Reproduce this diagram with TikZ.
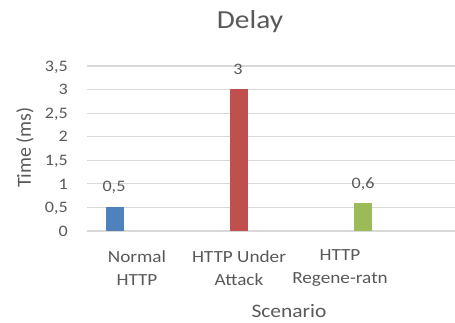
\documentclass[tikz,border=0pt]{standalone}
\usepackage{fontspec}
\setmainfont{Carlito}
\definecolor{txt}{HTML}{595959}
\definecolor{grid}{HTML}{D9D9D9}
\definecolor{barblue}{HTML}{4F81BD}
\definecolor{barred}{HTML}{C0504D}
\definecolor{bargreen}{HTML}{9BBB59}
\tikzset{
  lbl/.style={text=txt, inner sep=0pt, xscale=1.13, transform shape},
  tick/.style={lbl, anchor=east, text depth=0pt, font=\fontsize{16}{18}\selectfont},
  vallbl/.style={lbl, text depth=0pt, font=\fontsize{16}{18}\selectfont},
  cat/.style={lbl, align=center, font=\fontsize{17}{23.3}\selectfont},
  gridline/.style={draw=grid, line width=1.1pt},
  bar/.style={inner sep=0pt, minimum width=18pt, anchor=south, draw=none}
}
\begin{document}
\begin{tikzpicture}[x=1pt,y=-1pt]
\useasboundingbox (0,0) rectangle (455,323);
\fill[white] (0,0) rectangle (455,323);
% gridlines
\foreach \v/\n in {0/0,0.5/0,5,1/1,1.5/1,5,2/2,2.5/2,5,3/3,3.5/3,5}{}
\foreach \i/\t in {0/0,1/{0,5},2/1,3/{1,5},4/2,5/{2,5},6/3,7/{3,5}}{
  \coordinate (gl\i) at (86.7,231-\i*23.57);
  \coordinate (gr\i) at (455,231-\i*23.57);
  \draw[gridline] (gl\i) -- (gr\i);
  \node[tick] (t\i) at (68,231-\i*23.57) {\t};
}
% bars
\fill[barblue] (106,231) rectangle (124,207.4);
\fill[barred] (230.3,231) rectangle (247.7,88.6);
\fill[bargreen] (354.3,231) rectangle (372,202.7);
\coordinate (b1) at (115,207.4);
\coordinate (b2) at (239,88.6);
\coordinate (b3) at (363,202.7);
% value labels
\node[vallbl] (v1) at (114,186.7) {0,5};
\node[vallbl] (v2) at (238,69) {3};
\node[vallbl] (v3) at (363,182.7) {0,6};
% category labels
\node[cat] (c1) at (137,268.3) {Normal\\HTTP};
\node[cat] (c2) at (239,268.3) {HTTP Under\\Attack};
\node[cat] (c3) at (340,268.3) {HTTP\\Regene-ratn};
% titles
\node[lbl, font=\fontsize{26}{30}\selectfont] (title) at (250,22) {Delay};
\node[lbl, font=\fontsize{19}{22}\selectfont] (xt) at (289,311) {Scenario};
\node[text=txt, inner sep=0pt, rotate=90, font=\fontsize{20}{22}\selectfont] (yt) at (25,147.5) {Time (ms)};
\end{tikzpicture}
\end{document}
